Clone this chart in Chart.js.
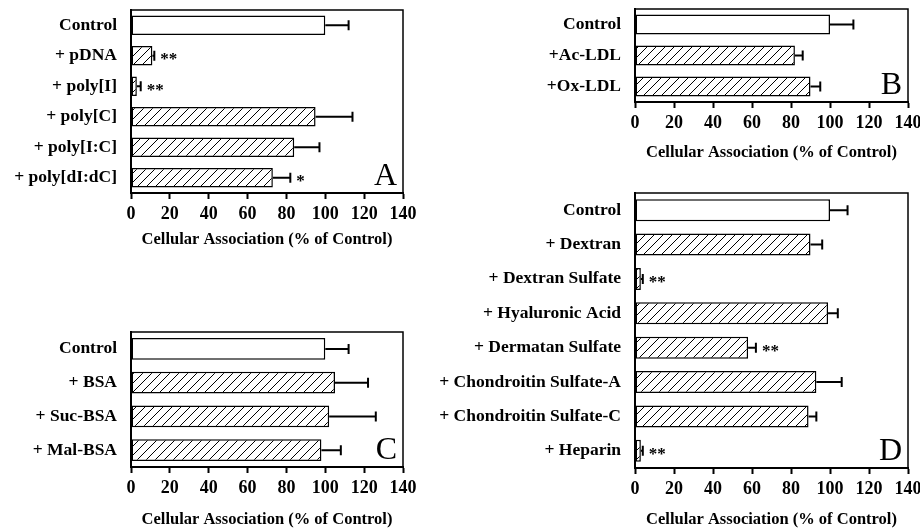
<!DOCTYPE html>
<html lang="en">
<head>
<meta charset="UTF-8">
<title>Cellular Association</title>
<script src="https://cdn.jsdelivr.net/npm/chart.js"></script>
<style>
  body { margin: 0; background: #fff; }
  #wrap { position: relative; width: 920px; height: 529px; overflow: hidden; }
  canvas { position: absolute; }
</style>
</head>
<body>
<div id="wrap">
  <canvas id="chartA" width="430" height="262" style="left:0;top:0"></canvas>
  <canvas id="chartB" width="460" height="175" style="left:460px;top:0"></canvas>
  <canvas id="chartC" width="430" height="229" style="left:0;top:300px"></canvas>
  <canvas id="chartD" width="490" height="349" style="left:430px;top:180px"></canvas>
</div>
<script>
// Panel A
const labelsA = ['Control', '+ pDNA', '+ poly[I]', '+ poly[C]', '+ poly[I:C]', '+ poly[dI:dC]'];
const valuesA = [100, 11, 3, 95, 84, 73];
const errorsA = [112, 12, 5, 114, 97, 82];
const starsA = ['', '**', '**', '', '', '*'];

// Panel B
const labelsB = ['Control', '+Ac-LDL', '+Ox-LDL'];
const valuesB = [100, 82, 90];
const errorsB = [112, 86, 95];
const starsB = ['', '', ''];

// Panel C
const labelsC = ['Control', '+ BSA', '+ Suc-BSA', '+ Mal-BSA'];
const valuesC = [100, 105, 102, 98];
const errorsC = [112, 122, 126, 108];
const starsC = ['', '', '', ''];

// Panel D
const labelsD = ['Control', '+ Dextran', '+ Dextran Sulfate', '+ Hyaluronic Acid', '+ Dermatan Sulfate',
                 '+ Chondroitin Sulfate-A', '+ Chondroitin Sulfate-C', '+ Heparin'];
const valuesD = [100, 90, 3, 99, 58, 93, 89, 3];
const errorsD = [109, 96, 4, 104, 62, 106, 93, 4];
const starsD = ['', '', '**', '', '**', '', '', '**'];

const xTicks = [0, 20, 40, 60, 80, 100, 120, 140];
const xTitle = 'Cellular Association (% of Control)';
const serif = '"Liberation Serif", "DejaVu Serif", serif';

// diagonal hatching for treated bars
function makeHatch() {
    const c = document.createElement('canvas');
    c.width = 9; c.height = 9;
    const g = c.getContext('2d');
    g.fillStyle = '#fff';
    g.fillRect(0, 0, 9, 9);
    g.strokeStyle = '#000';
    g.lineWidth = 1;
    g.beginPath();
    g.moveTo(-1, 10); g.lineTo(10, -1);
    g.moveTo(-1, 1); g.lineTo(1, -1);
    g.moveTo(8, 10); g.lineTo(10, 8);
    g.stroke();
    return c;
}
const hatchCanvas = makeHatch();

// error bars, asterisks, box and panel letter
const extras = {
    id: 'extras',
    afterDatasetsDraw(chart, args, opts) {
        const ctx = chart.ctx;
        const x = chart.scales.x;
        const area = chart.chartArea;
        const bars = chart.getDatasetMeta(0).data;
        ctx.save();
        ctx.strokeStyle = '#000';
        ctx.lineWidth = 2;
        bars.forEach((bar, i) => {
            const xe = x.getPixelForValue(opts.errors[i]);
            ctx.beginPath();
            ctx.moveTo(bar.x, bar.y);
            ctx.lineTo(xe, bar.y);
            ctx.moveTo(xe, bar.y - 5);
            ctx.lineTo(xe, bar.y + 5);
            ctx.stroke();
            if (opts.stars[i]) {
                ctx.fillStyle = '#000';
                ctx.font = 'bold 17px ' + serif;
                ctx.textAlign = 'left';
                ctx.textBaseline = 'middle';
                ctx.fillText(opts.stars[i], Math.max(xe, bar.x) + 6, bar.y + 4);
            }
        });
        ctx.lineWidth = 1.5;
        ctx.strokeRect(area.left, area.top, area.right - area.left, area.bottom - area.top);
        ctx.fillStyle = '#000';
        ctx.font = '32px ' + serif;
        ctx.textAlign = 'right';
        ctx.textBaseline = 'alphabetic';
        ctx.fillText(opts.letter, area.right - 6, area.bottom - 8);
        ctx.restore();
    }
};

function panel(id, labels, values, errors, stars, letter, box) {
    const canvas = document.getElementById(id);
    const h = canvas.height;
    const axisH = h - box.bottom;
    const hatch = canvas.getContext('2d').createPattern(hatchCanvas, 'repeat');
    new Chart(canvas, {
        type: 'bar',
        data: {
            labels: labels,
            datasets: [{
                data: values,
                backgroundColor: values.map((v, i) => i === 0 ? '#fff' : hatch),
                borderColor: '#000',
                borderWidth: 1.5,
                borderSkipped: false,
                barPercentage: 0.64,
                categoryPercentage: 1
            }]
        },
        options: {
            indexAxis: 'y',
            responsive: false,
            animation: false,
            devicePixelRatio: 1,
            layout: { padding: { left: 0, top: box.top, right: canvas.width - box.right, bottom: 0 } },
            plugins: {
                legend: { display: false },
                tooltip: { enabled: false },
                extras: { errors: errors, stars: stars, letter: letter }
            },
            scales: {
                x: {
                    min: 0, max: 140,
                    afterBuildTicks: s => { s.ticks = xTicks.map(v => ({ value: v })); },
                    afterFit: s => { s.height = axisH; s.paddingLeft = 0; s.paddingRight = 0; },
                    grid: { display: true, drawOnChartArea: false, tickLength: 6, tickWidth: 2, tickColor: '#000' },
                    border: { display: true, color: '#000', width: 2 },
                    ticks: { color: '#000', padding: 5, maxRotation: 0, font: { family: serif, size: 18, weight: 'bold' } },
                    title: {
                        display: true, text: xTitle, color: '#000',
                        padding: { top: 0, bottom: h - box.title - 10 },
                        font: { family: serif, size: 16.5, weight: 'bold' }
                    }
                },
                y: {
                    afterFit: s => { s.width = box.left; s.paddingTop = 0; s.paddingBottom = 0; },
                    grid: { display: false },
                    border: { display: true, color: '#000', width: 2 },
                    ticks: { color: '#000', padding: 6, autoSkip: false, font: { family: serif, size: 17.5, weight: 'bold' } }
                }
            }
        },
        plugins: [extras]
    });
}

// box: chart area inside each canvas (canvas coordinates), title centre line
panel('chartA', labelsA, valuesA, errorsA, starsA, 'A', { left: 131, top: 10, right: 403, bottom: 193, title: 240 });
panel('chartB', labelsB, valuesB, errorsB, starsB, 'B', { left: 175, top: 9, right: 448, bottom: 102, title: 153 });
panel('chartC', labelsC, valuesC, errorsC, starsC, 'C', { left: 131, top: 32, right: 403, bottom: 167, title: 220 });
panel('chartD', labelsD, valuesD, errorsD, starsD, 'D', { left: 205, top: 13, right: 478, bottom: 288, title: 340 });
</script>
</body>
</html>
